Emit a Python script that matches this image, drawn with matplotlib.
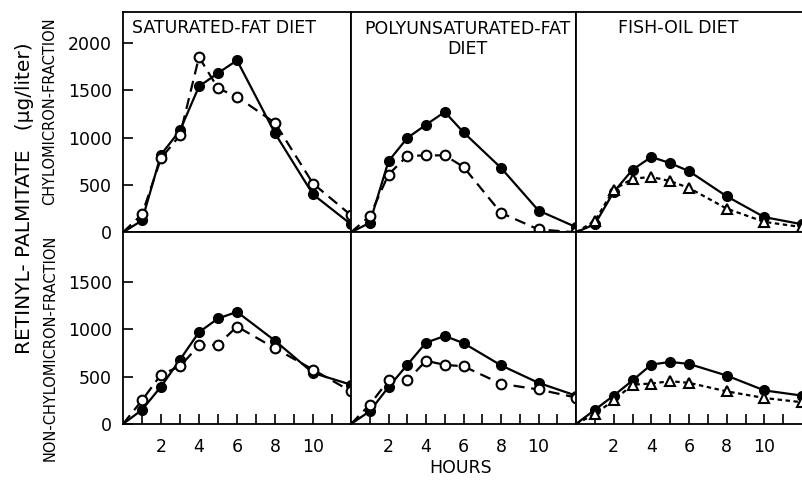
import numpy as np
import matplotlib.pyplot as plt

# hours after the test meal
hours = [0, 1, 2, 3, 4, 5, 6, 8, 10, 12]

# chylomicron fraction (ug/liter)
sat_chylo_filled = [0, 125, 820, 1075, 1540, 1680, 1815, 1045, 400, 85]
sat_chylo_open = [0, 190, 780, 1025, 1850, 1520, 1430, 1155, 515, 180]
poly_chylo_filled = [0, 100, 750, 995, 1135, 1270, 1055, 680, 230, 55]
poly_chylo_open = [0, 170, 610, 805, 812, 812, 690, 205, 30, 0]
fish_chylo_filled = [0, 85, 425, 660, 795, 730, 645, 380, 160, 85]
fish_chylo_tri = [0, 120, 450, 565, 585, 540, 468, 250, 110, 55]

# non-chylomicron fraction (ug/liter)
sat_non_filled = [0, 150, 395, 680, 970, 1115, 1185, 880, 540, 415]
sat_non_open = [0, 250, 522, 610, 830, 838, 1030, 800, 575, 345]
poly_non_filled = [0, 135, 390, 625, 860, 930, 855, 620, 435, 300]
poly_non_open = [0, 205, 460, 460, 668, 625, 610, 425, 365, 280]
fish_non_filled = [0, 150, 300, 460, 628, 656, 635, 512, 355, 300]
fish_non_tri = [0, 105, 250, 415, 428, 452, 435, 345, 275, 230]

titles = ['SATURATED-FAT DIET', 'POLYUNSATURATED-FAT\nDIET', 'FISH-OIL DIET']
top_series = [(sat_chylo_filled, sat_chylo_open, 'o'),
              (poly_chylo_filled, poly_chylo_open, 'o'),
              (fish_chylo_filled, fish_chylo_tri, '^')]
bottom_series = [(sat_non_filled, sat_non_open, 'o'),
                 (poly_non_filled, poly_non_open, 'o'),
                 (fish_non_filled, fish_non_tri, '^')]

W, H = 802, 482
plt.rcParams['font.family'] = ['DejaVu Sans']

fig = plt.figure(figsize=(W / 100, H / 100), dpi=100)


def px_axes(x0, x1, y0, y1):
    # pixel box (top-left origin) -> figure axes
    return fig.add_axes([x0 / W, 1 - y1 / H, (x1 - x0) / W, (y1 - y0) / H])


def draw(ax, filled, other, marker):
    ax.plot(hours, filled, color='black', lw=1.6, marker='o', ms=7,
            mfc='black', mec='black', markevery=slice(1, None), zorder=3)
    if marker == 'o':
        ls = (0, (5, 3))
        ms = 7
    else:
        ls = (0, (2, 1.6))
        ms = 6.5
    ax.plot(hours, other, color='black', lw=1.6, ls=ls, marker=marker, ms=ms,
            mfc='white', mec='black', mew=1.5, markevery=slice(1, None), zorder=4)


col_edges = [(123, 351), (351, 576), (576, 802)]
top_row = (12, 232.3)
bot_row = (232.3, 424)

for i, (x0, x1) in enumerate(col_edges):
    axt = px_axes(x0, x1, *top_row)
    axb = px_axes(x0, x1, *bot_row)
    draw(axt, *top_series[i])
    draw(axb, *bottom_series[i])
    for ax in (axt, axb):
        ax.set_xlim(0, 12)
        for s in ax.spines.values():
            s.set_linewidth(1.3)
        ax.tick_params(direction='in', length=7, width=1.2, labelsize=12.5)
        if i == 2:
            ax.spines['right'].set_visible(False)
    axt.set_ylim(0, 2325)
    axb.set_ylim(0, 2026)
    axt.set_xticks([])
    axb.set_xticks(range(1, 12))
    axb.set_xticklabels(['', '2', '', '4', '', '6', '', '8', '', '10', ''])
    axb.tick_params(axis='x', pad=10)
    if i == 0:
        axt.set_yticks([0, 500, 1000, 1500, 2000])
        axb.set_yticks([0, 500, 1000, 1500])
        axt.tick_params(axis='y', pad=8)
        axb.tick_params(axis='y', pad=8)
    else:
        axt.set_yticks([])
        axb.set_yticks([])

# panel titles
fig.text(132 / W, 1 - 28 / H, titles[0], ha='left', va='center', fontsize=12.5)
fig.text(467 / W, 1 - 39 / H, titles[1], ha='center', va='center',
         fontsize=12.5, linespacing=1.2)
fig.text(618 / W, 1 - 28 / H, titles[2], ha='left', va='center', fontsize=12.5)

# axis labels
fig.text(461 / W, 1 - 468 / H, 'HOURS', ha='center', va='center', fontsize=12.5)
fig.text(25 / W, 1 - 198 / H, 'RETINYL- PALMITATE   (\u03bcg/liter)',
         rotation=90, ha='center', va='center', fontsize=14.5)
fig.text(50 / W, 1 - 111 / H, 'CHYLOMICRON-FRACTION', rotation=90,
         ha='center', va='center', fontsize=10.5)
fig.text(50 / W, 1 - 348 / H, 'NON-CHYLOMICRON-FRACTION', rotation=90,
         ha='center', va='center', fontsize=10.5)

fig.savefig('out.png', dpi=100)
